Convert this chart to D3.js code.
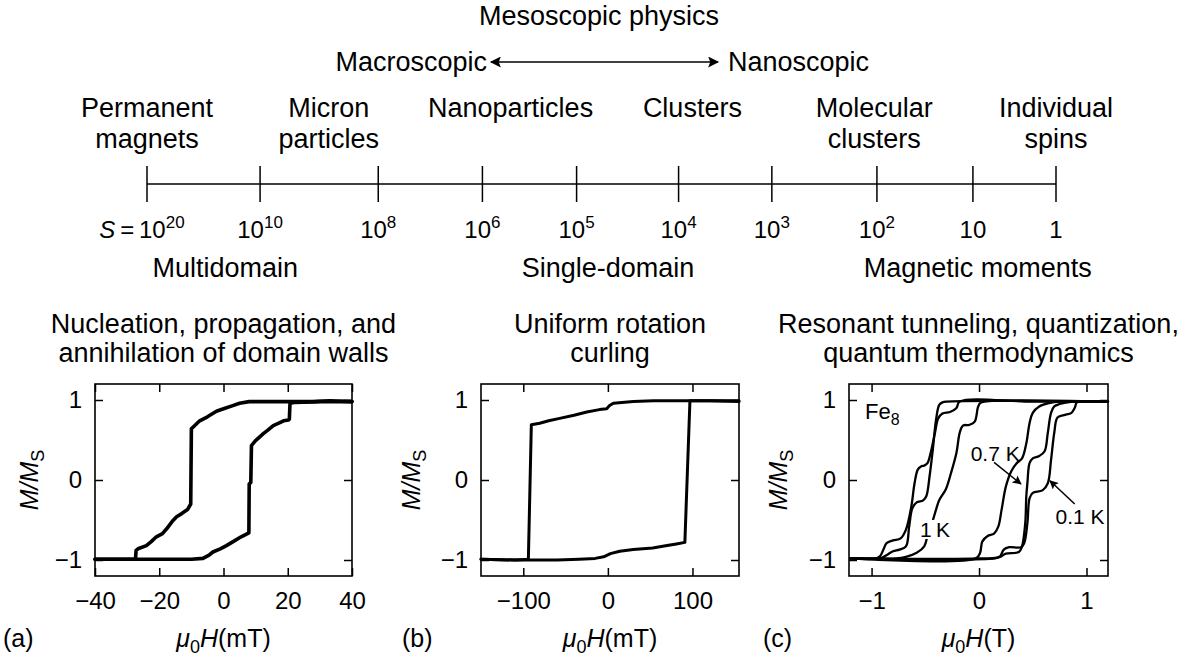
<!DOCTYPE html>
<html><head><meta charset="utf-8">
<script src="https://cdn.jsdelivr.net/npm/d3@7"></script>
<style>
body{margin:0;background:#fff;}
svg{display:block;font-family:"Liberation Sans",Arial,Helvetica,sans-serif;}
</style></head><body>
<svg id="c" width="1185" height="661"></svg>
<script>
// ---------------- DATA ----------------
const topTitle = "Mesoscopic physics";
const scaleEnds = ["Macroscopic", "Nanoscopic"];
const categories = [["Permanent","magnets"],["Micron","particles"],["Nanoparticles"],["Clusters"],["Molecular","clusters"],["Individual","spins"]];
// spin number S: exponent of 10 and where it sits along the category index axis
const sExponents = [20, 10, 8, 6, 5, 4, 3, 2, 1, 0];
const sAtCategoryIndex = [0, 0.622, 1.272, 1.845, 2.363, 2.924, 3.437, 4.015, 4.543, 5.0];
const regimes = ["Multidomain", "Single-domain", "Magnetic moments"];
const regimeAtCategoryIndex = [0.43, 2.536, 4.57];

const panelTitles = [
  ["Nucleation, propagation, and", "annihilation of domain walls"],
  ["Uniform rotation", "curling"],
  ["Resonant tunneling, quantization,", "quantum thermodynamics"]
];
const panelLetters = ["(a)", "(b)", "(c)"];
const xUnits = ["mT", "mT", "T"];
const xTicksA = [-40, -20, 0, 20, 40];
const xTicksB = [-100, 0, 100];
const xTicksC = [-1, 0, 1];
const yTicks = [-1, 0, 1];

// (a) multidomain loop, mT vs M/Ms
const aDown = [[40,0.98],[33,0.99],[28,0.98],[20,0.98],[8,0.98],[5,0.96],[2.9,0.93],[0,0.89],[-2.2,0.86],[-5,0.79],[-7.4,0.74],[-9.5,0.66],[-10,0.64],[-10.2,-0.30],[-11.2,-0.37],[-13,-0.42],[-14.6,-0.46],[-16,-0.52],[-17.7,-0.61],[-19,-0.67],[-20.9,-0.71],[-22.5,-0.77],[-24,-0.82],[-26.6,-0.86],[-27.2,-0.88],[-27.4,-0.99],[-30,-0.99],[-40,-0.99]];
const aUp = [[-40,-0.99],[-30,-0.99],[-20,-0.99],[-10,-0.99],[-6.4,-0.98],[-4.5,-0.94],[-3.3,-0.90],[-1,-0.86],[0.9,-0.82],[3,-0.77],[5.5,-0.71],[7.9,-0.66],[8.0,-0.05],[8.5,-0.03],[8.7,0.43],[9.9,0.49],[12.4,0.58],[13.7,0.62],[15.5,0.68],[17.2,0.71],[18.7,0.74],[20.2,0.75],[20.5,0.76],[20.7,0.96],[22,0.97],[30,0.98],[40,0.98]];

// (b) single-domain loop
const bDown = [[155,0.99],[100,0.99],[54,0.99],[30,0.98],[6.5,0.96],[2,0.93],[-1.4,0.89],[-10,0.88],[-25,0.85],[-40,0.81],[-57,0.77],[-70,0.74],[-80.6,0.71],[-90.5,0.69],[-94,-0.99],[-110,-1.0],[-150,-0.99]];
const bUp = [[-150,-0.99],[-110,-1.0],[-94,-1.0],[-60,-1.0],[-34,-0.99],[-15,-0.98],[-5,-0.96],[3,-0.92],[14,-0.89],[30,-0.87],[53,-0.85],[70,-0.82],[81,-0.80],[91,-0.78],[97,0.99],[120,0.99],[155,0.98]];

// (c) Fe8 loops at 0.1 K, 0.7 K, 1 K (T vs M/Ms)
const c01Down = [[1.2,0.98],[0.5,0.98],[-0.18,0.98],[-0.21,0.90],[-0.27,0.85],[-0.34,0.83],[-0.38,0.77],[-0.41,0.59],[-0.45,0.34],[-0.48,0.21],[-0.51,0.18],[-0.54,0.17],[-0.57,0.13],[-0.60,-0.04],[-0.63,-0.33],[-0.68,-0.62],[-0.73,-0.73],[-0.80,-0.755],[-0.86,-0.79],[-0.89,-0.87],[-0.92,-0.95],[-0.96,-0.98],[-1.2,-0.98]];
const c01Up = [[-1.2,-0.98],[0,-0.98],[0.19,-0.96],[0.23,-0.87],[0.28,-0.84],[0.39,-0.84],[0.42,-0.79],[0.45,-0.54],[0.47,-0.23],[0.50,-0.16],[0.59,-0.13],[0.64,-0.04],[0.67,0.25],[0.70,0.59],[0.73,0.78],[0.79,0.81],[0.86,0.84],[0.89,0.90],[0.91,0.97],[0.95,0.98],[1.2,0.98]];
const c07Down = [[1.2,0.98],[-0.30,0.98],[-0.34,0.97],[-0.37,0.94],[-0.40,0.755],[-0.43,0.38],[-0.46,0.05],[-0.49,-0.2],[-0.52,-0.255],[-0.58,-0.28],[-0.62,-0.35],[-0.65,-0.58],[-0.68,-0.83],[-0.74,-0.87],[-0.80,-0.89],[-0.85,-0.93],[-0.90,-0.97],[-0.95,-0.98],[-1.2,-0.98]];
const c07Up = [[-1.2,-0.98],[0.15,-0.98],[0.20,-0.96],[0.25,-0.92],[0.37,-0.90],[0.40,-0.83],[0.43,-0.54],[0.44,-0.20],[0.45,-0.04],[0.47,0.21],[0.50,0.27],[0.56,0.30],[0.61,0.36],[0.64,0.59],[0.67,0.84],[0.70,0.92],[0.75,0.95],[0.87,0.98],[1.2,0.98]];
const c1Down = [[1.2,0.98],[0.05,0.98],[0.01,0.96],[-0.01,0.91],[-0.04,0.73],[-0.09,0.69],[-0.15,0.68],[-0.18,0.59],[-0.21,0.34],[-0.26,0.09],[-0.31,-0.12],[-0.37,-0.25],[-0.40,-0.37],[-0.44,-0.55],[-0.48,-0.70],[-0.51,-0.83],[-0.58,-0.91],[-0.68,-0.96],[-0.77,-0.98],[-1.2,-0.98]];
const c1Up = [[-1.2,-0.98],[-0.03,-0.98],[0.01,-0.91],[0.03,-0.77],[0.08,-0.70],[0.14,-0.67],[0.18,-0.58],[0.21,-0.37],[0.25,-0.08],[0.30,0.11],[0.35,0.21],[0.40,0.27],[0.44,0.46],[0.47,0.71],[0.50,0.84],[0.56,0.92],[0.65,0.96],[0.75,0.98],[1.2,0.98]];
// annotations in data coordinates of panel (c)
const tempLabels = ["0.7 K", "0.1 K", "1\u2009K"];
const tempLabelAt = [[0.15, 0.33], [0.94, -0.46], [-0.41, -0.62]];
const tempArrowFrom = [[0.14, 0.22], [0.89, -0.30]];
const tempArrowTo = [[0.39, -0.05], [0.66, -0.01]];
const compound = ["Fe", "8"];
const compoundAt = [-1.06, 0.76];

// ---------------- DRAW ----------------
const svg = d3.select("#c");
const BIG = 27;
const defs = svg.append("defs");
function marker(id, w, h) {
  defs.append("marker").attr("id", id).attr("viewBox", "0 0 10 10").attr("refX", 9).attr("refY", 5)
    .attr("markerWidth", w).attr("markerHeight", h).attr("markerUnits", "userSpaceOnUse")
    .attr("orient", "auto-start-reverse")
    .append("path").attr("d", "M0,0 L10,5 L0,10 L2,5 Z").attr("fill", "#000");
}
marker("arrBig", 14, 11);
marker("arrSmall", 11, 9);

// ---- Top schematic ----
const idxX = d3.scaleLinear().domain([0, categories.length - 1]).range([147, 1056]);
const catX = d3.scalePoint().domain(d3.range(categories.length)).range(idxX.range());

svg.append("text").attr("x", 599).attr("y", 25).attr("text-anchor", "middle")
  .attr("font-size", BIG).text(topTitle);
svg.append("text").attr("x", 487).attr("y", 71).attr("text-anchor", "end").attr("font-size", BIG).text(scaleEnds[0]);
svg.append("text").attr("x", 728).attr("y", 71).attr("text-anchor", "start").attr("font-size", BIG).text(scaleEnds[1]);
svg.append("line").attr("x1", 491).attr("x2", 718).attr("y1", 62).attr("y2", 62)
  .attr("stroke", "#000").attr("stroke-width", 1.6)
  .attr("marker-start", "url(#arrBig)").attr("marker-end", "url(#arrBig)");

const catG = svg.append("g").attr("font-size", BIG).attr("text-anchor", "middle");
categories.forEach((lines, i) => {
  const t = catG.append("text").attr("x", catX(i)).attr("y", 117);
  lines.forEach((ln, j) => t.append("tspan").attr("x", catX(i)).attr("dy", j === 0 ? 0 : 31).text(ln));
});

// scale line
svg.append("line").attr("x1", idxX(0)).attr("x2", idxX(categories.length - 1))
  .attr("y1", 184).attr("y2", 184).attr("stroke", "#000").attr("stroke-width", 1.5);
svg.append("g").selectAll("line").data(sAtCategoryIndex).join("line")
  .attr("x1", d => idxX(d)).attr("x2", d => idxX(d)).attr("y1", 166).attr("y2", 202)
  .attr("stroke", "#000").attr("stroke-width", 1.5);

const sG = svg.append("g").attr("font-size", 24);
sExponents.forEach((e, i) => {
  const t = sG.append("text").attr("y", 238).attr("text-anchor", "middle");
  let cx = idxX(sAtCategoryIndex[i]);
  if (i === 0) {
    t.append("tspan").attr("font-style", "italic").text("S");
    t.append("tspan").text("\u2009=\u2009");
    cx -= 5;
  }
  if (e === 0) t.append("tspan").text("1");
  else if (e === 1) t.append("tspan").text("10");
  else {
    t.append("tspan").text("10");
    t.append("tspan").attr("font-size", 17).attr("dy", -10).text(e);
  }
  t.attr("x", cx);
});
svg.append("g").attr("font-size", BIG).attr("text-anchor", "middle")
  .selectAll("text").data(regimes).join("text")
  .attr("x", (d, i) => idxX(regimeAtCategoryIndex[i])).attr("y", 277).text(d => d);

// ---- Panels ----
const yScale = d3.scaleLinear().domain([-1.2, 1.2]).range([576, 384]);
const panels = [
  {xDomain: [-40, 40], xRange: [95, 352], ticks: xTicksA, loops: [[aDown, aUp]], lw: 3.6, yTitleDx: -65, letterX: 3},
  {xDomain: [-150, 155], xRange: [481, 739], ticks: xTicksB, loops: [[bDown, bUp]], lw: 3.0, yTitleDx: -69, letterX: 402},
  {xDomain: [-1.21, 1.2], xRange: [849, 1108], ticks: xTicksC, loops: [[c01Down, c01Up], [c07Down, c07Up], [c1Down, c1Up]], lw: 2.3, yTitleDx: -70, letterX: 763, smooth: true}
];
const intFmt = d3.format("d");

panels.forEach((p, pi) => {
  const x = d3.scaleLinear().domain(p.xDomain).range(p.xRange);
  const y = yScale;
  const g = svg.append("g");
  const [x0, x1] = p.xRange;
  const cx = (x0 + x1) / 2;

  // title
  const tt = g.append("text").attr("font-size", BIG).attr("text-anchor", "middle").attr("y", 333);
  panelTitles[pi].forEach((ln, j) => tt.append("tspan").attr("x", cx).attr("dy", j === 0 ? 0 : 29).text(ln));

  // loops
  const line = d3.line().x(d => x(d[0])).y(d => y(d[1]))
    .curve(p.smooth ? d3.curveCatmullRom.alpha(0.5) : d3.curveLinear);
  p.loops.forEach(pair => pair.forEach(branch => {
    g.append("path").attr("d", line(branch)).attr("fill", "none").attr("stroke", "#000")
      .attr("stroke-width", p.lw).attr("stroke-linejoin", "round").attr("stroke-linecap", "round");
  }));

  // axes (inward ticks on all sides)
  const styleAxis = sel => {
    sel.select(".domain").remove();
    sel.selectAll(".tick line").attr("stroke", "#000").attr("stroke-width", 1.5);
    sel.selectAll("text").attr("font-size", 24).attr("fill", "#000")
      .attr("font-family", "Liberation Sans, Arial, sans-serif");
  };
  g.append("g").attr("transform", `translate(0,${y.range()[0]})`)
    .call(d3.axisBottom(x).tickValues(p.ticks).tickFormat(intFmt).tickSize(-8).tickPadding(16)).call(styleAxis);
  g.append("g").attr("transform", `translate(0,${y.range()[1]})`)
    .call(d3.axisTop(x).tickValues(p.ticks).tickSize(-8).tickFormat("")).call(styleAxis);
  g.append("g").attr("transform", `translate(${x0},0)`)
    .call(d3.axisLeft(y).tickValues(yTicks).tickFormat(intFmt).tickSize(-8).tickPadding(13)).call(styleAxis);
  g.append("g").attr("transform", `translate(${x1},0)`)
    .call(d3.axisRight(y).tickValues(yTicks).tickSize(-8).tickFormat("")).call(styleAxis);
  g.append("rect").attr("x", x0).attr("y", y.range()[1]).attr("width", x1 - x0)
    .attr("height", y.range()[0] - y.range()[1]).attr("fill", "none").attr("stroke", "#000").attr("stroke-width", 1.6);

  // x title: mu0 H (unit)
  const xt = g.append("text").attr("x", cx).attr("y", 647).attr("text-anchor", "middle").attr("font-size", 25);
  xt.append("tspan").attr("font-style", "italic").text("\u03bc");
  xt.append("tspan").attr("font-size", 18).attr("dy", 6).text("0");
  xt.append("tspan").attr("font-style", "italic").attr("dy", -6).text("H");
  xt.append("tspan").text("(" + xUnits[pi] + ")");

  // y title: M/Ms
  const yc = y(0);
  const yt = g.append("text").attr("transform", `translate(${x0 + p.yTitleDx + 8},${yc}) rotate(-90)`)
    .attr("text-anchor", "middle").attr("font-size", 25);
  yt.append("tspan").attr("font-style", "italic").text("M/M");
  yt.append("tspan").attr("font-size", 18).attr("dy", 6).text("S");

  // panel letter
  g.append("text").attr("x", p.letterX).attr("y", 647).attr("font-size", 25).text(panelLetters[pi]);

  if (pi === 2) {
    // Fe8
    const fe = g.append("text").attr("x", x(compoundAt[0])).attr("y", y(compoundAt[1])).attr("font-size", 22);
    fe.append("tspan").text(compound[0]);
    fe.append("tspan").attr("font-size", 16).attr("dy", 6).text(compound[1]);
    // arrows
    tempArrowFrom.forEach((f, i) => {
      g.append("line").attr("x1", x(f[0])).attr("y1", y(f[1]))
        .attr("x2", x(tempArrowTo[i][0])).attr("y2", y(tempArrowTo[i][1]))
        .attr("stroke", "#000").attr("stroke-width", 1.5).attr("marker-end", "url(#arrSmall)");
    });
    tempLabels.forEach((lab, i) => {
      const t = g.append("text").attr("x", x(tempLabelAt[i][0])).attr("y", y(tempLabelAt[i][1]))
        .attr("text-anchor", "middle").attr("dy", "0.35em").attr("font-size", 21).text(lab);
      if (i === 2) {
        const bb = t.node().getBBox();
        g.insert("rect", () => t.node()).attr("x", bb.x - 1).attr("y", bb.y + 2)
          .attr("width", bb.width + 2).attr("height", bb.height - 4).attr("fill", "#fff");
      }
    });
  }
});
</script>
</body></html>
